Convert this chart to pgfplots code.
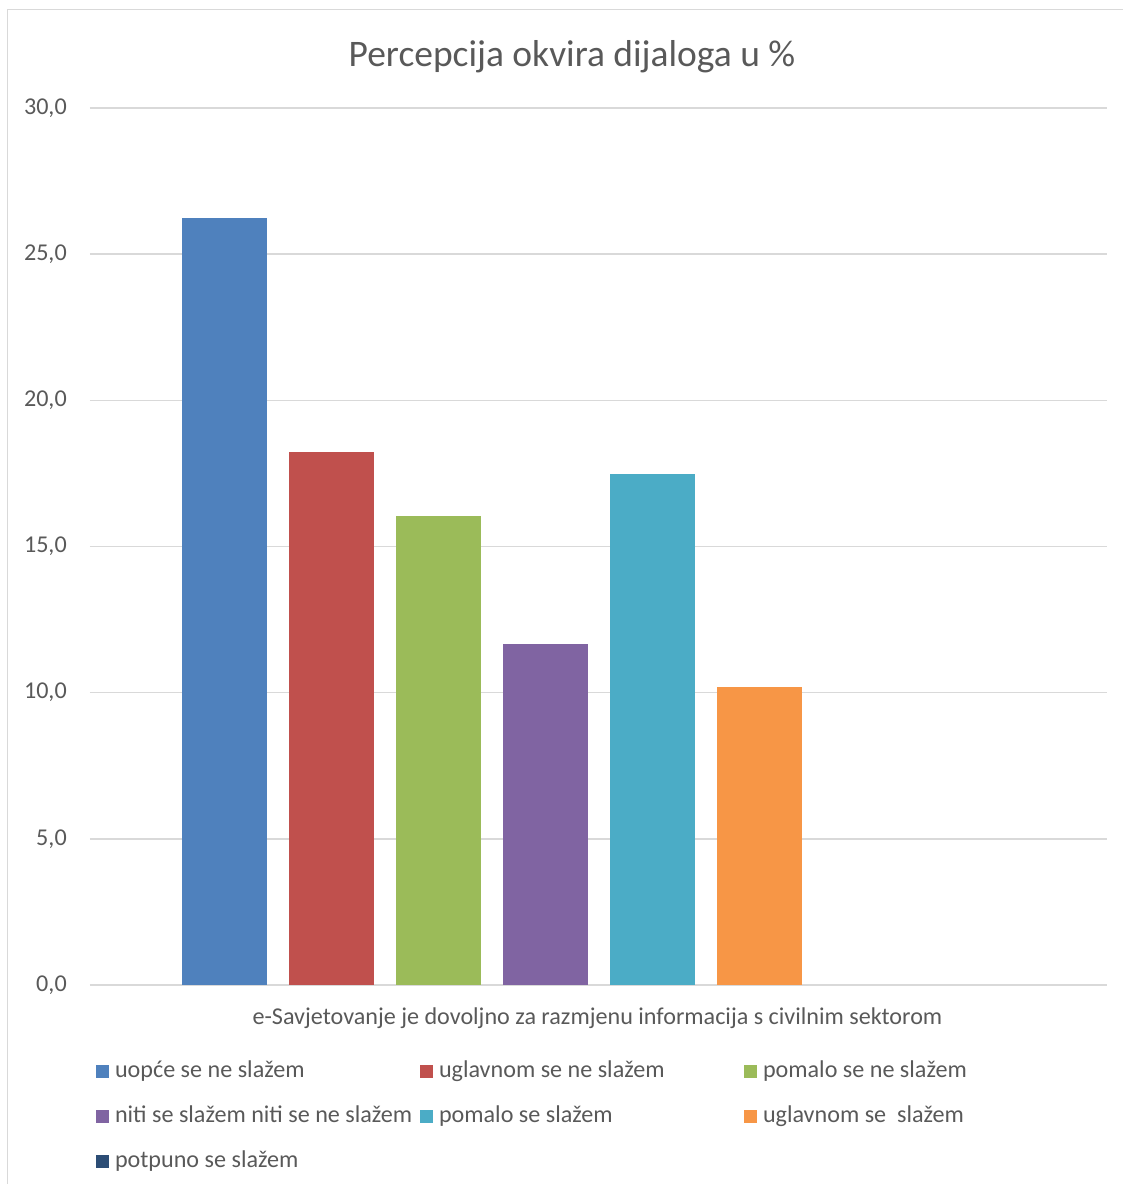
\documentclass[border=0pt]{standalone}
\usepackage{fontspec}
\setmainfont{Carlito}
\usepackage{pgfplots}
\pgfplotsset{compat=1.18}
\definecolor{c1}{HTML}{4F81BD}
\definecolor{c2}{HTML}{C0504D}
\definecolor{c3}{HTML}{9BBB59}
\definecolor{c4}{HTML}{8064A2}
\definecolor{c5}{HTML}{4BACC6}
\definecolor{c6}{HTML}{F79646}
\definecolor{c7}{HTML}{2C4D75}
\definecolor{txt}{HTML}{595959}
\definecolor{grd}{HTML}{D9D9D9}
\newcommand{\lbl}{\fontsize{18.1}{21}\selectfont}
\pgfplotsset{sqlegend/.style={legend image code/.code={\path[#1] (0pt,-4.875pt) rectangle (9.75pt,4.875pt);}}}
\begin{document}
\begin{tikzpicture}
\begin{axis}[
    at={(0,0)}, anchor=south west,
    scale only axis, width=762.75pt, height=657.75pt,
    xmin=0, xmax=9.505, ymin=0, ymax=30,
    ytick={0,5,...,30}, xtick=\empty,
    ymajorgrids, grid style={grd, line width=1pt},
    axis line style={draw=none},
    major tick length=0pt,
    yticklabel={\pgfmathprintnumber[fixed,fixed zerofill,precision=1,use comma,assume math mode=true]{\tick}},
    yticklabel style={font=\lbl, text=txt, anchor=east, inner sep=0pt, xshift=-17.25pt},
    ybar, bar width=0.794,
    every axis plot/.append style={draw=none, bar shift=0pt, sqlegend},
    legend columns=3,
    legend cell align=left,
    legend style={at={(0.0059,-0.0867)}, anchor=north west, draw=none, fill=none,
        inner sep=0pt, outer sep=0pt, font=\lbl, text=txt,
        nodes={inner sep=0pt, text height=12pt, text depth=4pt},
        row sep=17.75pt,
        /tikz/every odd column/.append style={column sep=4.5pt}},
]
\addplot[fill=c1] coordinates {(1.257,26.25)};
\addlegendentry{\makebox[228.75pt][l]{uopće se ne slažem}}
\addplot[fill=c2] coordinates {(2.257,18.23)};
\addlegendentry{\makebox[228.75pt][l]{uglavnom se ne slažem}}
\addplot[fill=c3] coordinates {(3.257,16.05)};
\addlegendentry{\makebox[228.75pt][l]{pomalo se ne slažem}}
\addplot[fill=c4] coordinates {(4.257,11.67)};
\addlegendentry{\makebox[228.75pt][l]{niti se slažem niti se ne slažem}}
\addplot[fill=c5] coordinates {(5.257,17.49)};
\addlegendentry{\makebox[228.75pt][l]{pomalo se slažem}}
\addplot[fill=c6] coordinates {(6.257,10.19)};
\addlegendentry{\makebox[228.75pt][l]{uglavnom se\ \ slažem}}
% potpuno se slažem: 0 %, no visible bar
\addlegendimage{fill=c7, draw=none, sqlegend}
\addlegendentry{\makebox[228.75pt][l]{potpuno se slažem}}
\end{axis}
\node[anchor=base, font=\fontsize{28.1}{33}\selectfont, text=txt] at (361.5pt,688.5pt) {Percepcija okvira dijaloga u \%};
\node[anchor=base, font=\lbl, text=txt] at (380.6pt,-29.25pt) {e-Savjetovanje je dovoljno za razmjenu informacija s civilnim sektorom};
\draw[grd, line width=0.75pt] (-61.5pt,-149.25pt) -- (-61.5pt,731.25pt) -- (774.75pt,731.25pt);
\pgfresetboundingbox
\path[use as bounding box] (-67.5pt,-149.25pt) rectangle (774.75pt,738.75pt);
\end{tikzpicture}
\end{document}
